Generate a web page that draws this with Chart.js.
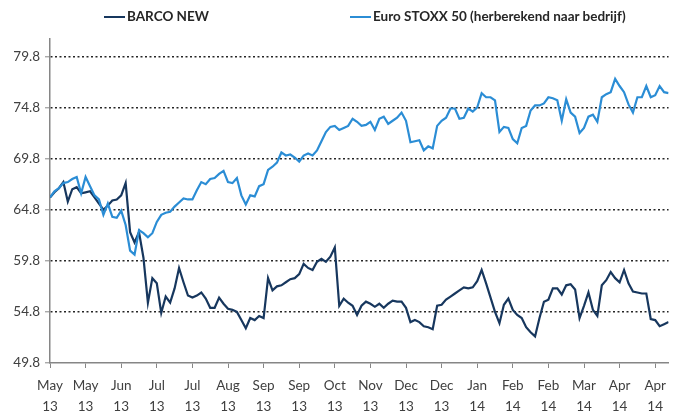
<!DOCTYPE html>
<html>
<head>
<meta charset="utf-8">
<script src="https://cdn.jsdelivr.net/npm/chart.js@4.4.1/dist/chart.umd.min.js"></script>
<style>
    body { margin: 0; background: #fff; }
    #wrap { position: relative; width: 674px; height: 414px; }
    .legend-item { position: absolute; top: 8px; font: bold 13.5px Lato, 'Liberation Sans', sans-serif; color: #262626; white-space: nowrap; }
    .legend-item span { display: inline-block; width: 21px; height: 2px; vertical-align: middle; margin-right: 2px; position: relative; top: -1px; }
</style>
</head>
<body>
<div id="wrap">
    <canvas id="chart" width="674" height="414"></canvas>
    <div class="legend-item" style="left:104px"><span style="background:#17375e"></span>BARCO NEW</div>
    <div class="legend-item" style="left:350px"><span style="background:#2b8dd5"></span>Euro STOXX 50 (herberekend naar bedrijf)</div>
</div>
<script>
const tickMonths = ['May', 'May', 'Jun', 'Jul', 'Jul', 'Aug', 'Sep', 'Sep', 'Oct', 'Nov', 'Dec', 'Dec', 'Jan', 'Feb', 'Feb', 'Mar', 'Apr', 'Apr'];
const tickYears = ['13', '13', '13', '13', '13', '13', '13', '13', '13', '13', '13', '13', '14', '14', '14', '14', '14', '14'];
const yTicks = [49.8, 54.8, 59.8, 64.8, 69.8, 74.8, 79.8];
const pointsPerTick = 8;

// roughly one point every 4.5px
const barco = [
    66.0, 66.5, 66.9, 67.5, 65.6, 66.8, 67.0, 66.4, 66.5, 66.6,
    66.0, 65.4, 64.8, 65.2, 65.7, 65.8, 66.2, 67.4, 62.6, 61.6,
    62.6, 60.1, 55.7, 58.1, 57.6, 54.7, 56.3, 55.7, 57.1, 59.1,
    57.7, 56.4, 56.2, 56.4, 56.7, 56.1, 55.2, 55.2, 56.2, 55.6,
    55.1, 55.0, 54.8, 54.0, 53.2, 54.2, 54.0, 54.4, 54.2, 58.1,
    56.9, 57.3, 57.4, 57.7, 58.0, 58.1, 58.5, 59.5, 59.1, 58.9,
    59.7, 60.0, 59.7, 60.2, 61.1, 55.4, 56.1, 55.7, 55.4, 54.5,
    55.4, 55.8, 55.6, 55.3, 55.6, 55.2, 55.6, 55.9, 55.8, 55.8,
    55.2, 53.8, 54.0, 53.8, 53.4, 53.3, 53.1, 55.4, 55.5, 56.0,
    56.3, 56.6, 56.9, 57.2, 57.1, 57.2, 57.8, 58.9, 57.6, 56.2,
    54.8, 53.7, 55.5, 56.1, 55.0, 54.5, 54.2, 53.3, 52.8, 52.4,
    54.2, 55.8, 56.0, 57.1, 57.1, 56.5, 57.4, 57.5, 57.0, 54.2,
    55.4, 56.7, 55.0, 54.4, 57.4, 57.9, 58.7, 58.1, 57.7, 58.9,
    57.6, 56.8, 56.7, 56.6, 56.6, 54.1, 54.0, 53.4, 53.6, 53.8
];
const euroStoxx = [
    66.0, 66.6, 66.9, 67.4, 67.5, 67.8, 68.0, 66.4, 68.0, 67.1,
    66.2, 65.8, 64.3, 65.4, 64.1, 64.0, 64.7, 63.3, 60.8, 60.4,
    62.8, 62.5, 62.1, 62.5, 63.6, 64.3, 64.5, 64.6, 65.1, 65.5,
    65.9, 65.8, 65.8, 66.7, 67.5, 67.3, 67.8, 67.9, 68.3, 68.6,
    67.5, 67.4, 67.9, 66.2, 65.3, 66.2, 66.1, 67.1, 67.3, 68.7,
    69.0, 69.4, 70.4, 70.1, 70.2, 69.9, 69.5, 70.1, 70.3, 70.1,
    70.6, 71.5, 72.4, 72.9, 73.0, 72.6, 72.8, 73.0, 73.7, 73.4,
    73.0, 73.1, 73.4, 72.6, 73.7, 73.9, 73.2, 73.5, 73.8, 74.3,
    73.5, 71.4, 71.5, 71.6, 70.6, 71.0, 70.8, 73.0, 73.5, 73.8,
    74.7, 74.7, 73.7, 73.8, 74.7, 74.4, 74.8, 76.2, 75.8, 75.8,
    75.5, 72.4, 72.9, 72.8, 71.7, 71.3, 72.8, 73.0, 74.5, 75.0,
    75.0, 75.2, 75.8, 75.7, 75.5, 73.5, 75.6, 74.3, 73.9, 72.3,
    72.8, 73.9, 74.1, 73.4, 75.8, 76.1, 76.3, 77.6, 76.9, 76.3,
    75.1, 74.3, 75.8, 75.8, 76.9, 75.8, 76.0, 76.9, 76.3, 76.2
];

const toPoints = arr => arr.map((y, i) => ({ x: i, y }));
const tickFont = { family: "Lato, 'Liberation Sans', sans-serif", size: 13.5 };

const ctx = document.getElementById('chart').getContext('2d');
const chart = new Chart(ctx, {
    type: 'line',
    data: {
        datasets: [{
            label: 'BARCO NEW',
            data: toPoints(barco),
            borderColor: '#17375e',
            borderWidth: 2.2,
            pointRadius: 0,
            tension: 0,
            order: 1
        }, {
            label: 'Euro STOXX 50 (herberekend naar bedrijf)',
            data: toPoints(euroStoxx),
            borderColor: '#2b8dd5',
            borderWidth: 2.2,
            pointRadius: 0,
            tension: 0,
            order: 0
        }]
    },
    options: {
        responsive: false,
        animation: false,
        layout: { padding: { top: 39, right: 0, left: 0, bottom: 0 } },
        plugins: {
            legend: { display: false },
            tooltip: { enabled: false }
        },
        scales: {
            x: {
                type: 'linear',
                min: 0,
                max: barco.length - 1,
                afterBuildTicks: scale => {
                    scale.ticks = tickMonths.map((m, k) => ({ value: k * pointsPerTick }));
                },
                afterFit: scale => { scale.height = 51; },
                ticks: {
                    autoSkip: false,
                    maxRotation: 0,
                    padding: 8,
                    color: '#404040',
                    font: { ...tickFont, lineHeight: 1.5 },
                    callback: value => {
                        const k = Math.round(value / pointsPerTick);
                        return [tickMonths[k], tickYears[k]];
                    }
                },
                grid: { drawOnChartArea: false, tickLength: 5, tickColor: '#868686', tickWidth: 1 },
                border: { color: '#868686', width: 1.5 }
            },
            y: {
                min: 49.8,
                max: 81.5,
                afterBuildTicks: scale => {
                    scale.ticks = yTicks.map(v => ({ value: v }));
                },
                afterFit: scale => { scale.width = 50; },
                ticks: {
                    padding: 5,
                    color: '#404040',
                    font: tickFont,
                    callback: value => value.toFixed(1)
                },
                grid: {
                    color: c => c.tick && c.tick.value === 49.8 ? 'rgba(0,0,0,0)' : '#262626',
                    lineWidth: 1.6,
                    tickLength: 5,
                    tickColor: '#868686',
                    tickWidth: 1
                },
                border: { color: '#868686', width: 1.5, dash: [2, 2.5] }
            }
        }
    }
});
</script>
</body>
</html>
